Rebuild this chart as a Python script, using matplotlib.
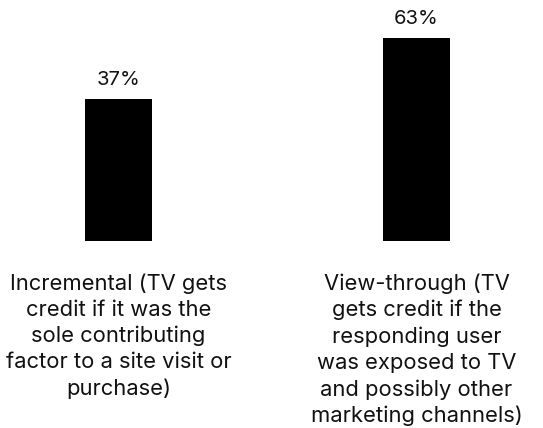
import numpy as np
import matplotlib.pyplot as plt

# data
categories = [
    "Incremental (TV gets\ncredit if it was the\nsole contributing\nfactor to a site visit or\npurchase)",
    "View-through (TV\ngets credit if the\nresponding user\nwas exposed to TV\nand possibly other\nmarketing channels)",
]
values = [37, 63]
value_labels = ["37%", "63%"]

plt.rcParams['font.family'] = ['Inter', 'DejaVu Sans']

W, H = 543, 428
fig = plt.figure(figsize=(W / 100, H / 100), dpi=100)

# bars in the reference are not drawn from zero; they share a lowered baseline
base = -23.4
bar_w = 0.225
x = np.arange(len(values))

# axes spans full width; bottom of bars at y=240.7px, top of tallest at 38px
ax = fig.add_axes([0, (H - 240.7) / H, 1, (240.7 - 38) / H])
ax.set_xlim(-118.5 / 298, (W - 118.5) / 298)
ax.set_ylim(base, max(values))

heights = [v - base for v in values]
ax.bar(x, heights, bottom=base, width=bar_w, color='black')

for xi, v, lab in zip(x, values, value_labels):
    ax.annotate(lab, (xi, v), xytext=(0, 9.8), textcoords='offset points',
                ha='center', va='baseline', fontsize=14.5, color='#111111')

for xi, cat in zip(x, categories):
    ax.annotate(cat, (xi, base), xytext=(0, -23.5), textcoords='offset points',
                ha='center', va='top', fontsize=15.8, color='#111111',
                linespacing=1.37, annotation_clip=False)

ax.axis('off')
fig.savefig('out.png', dpi=100)
